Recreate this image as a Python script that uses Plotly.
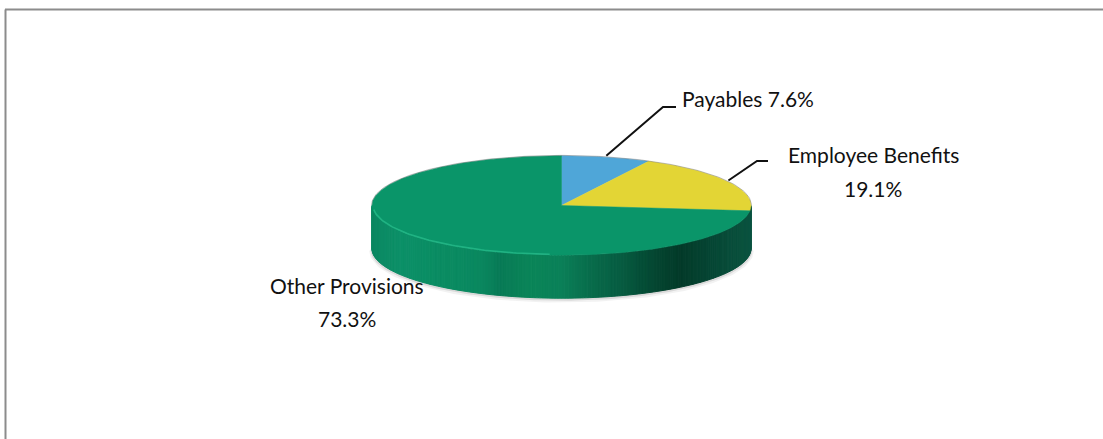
import numpy as np
import plotly.graph_objects as go

categories = ["Payables", "Employee Benefits", "Other Provisions"]
shares = [7.6, 19.1, 73.3]
slice_colors = ["#4fa6d8", "#e3d535", "#0a9569"]

# Shading of the pie's front wall, left to right across the page.
wall_x = [372, 400, 430, 480, 500, 530, 560, 590, 620, 660, 680, 710, 751]
wall_rgb = [(11, 136, 98), (12, 144, 104), (10, 141, 99), (10, 136, 95), (8, 122, 86),
            (10, 133, 88), (10, 128, 88), (8, 108, 75), (7, 92, 65), (4, 67, 47),
            (3, 58, 41), (6, 70, 52), (11, 84, 64)]

CX, CY, RX, RY, DEPTH = 561.5, 205.5, 189.5, 49.7, 43.0
FONT = "Lato"
FONT_SIZE = 21


def rim(theta, drop=0.0, grow=1.0):
    """Point on the ellipse, theta in radians clockwise from 12 o'clock."""
    return CX + RX * grow * np.sin(theta), CY + drop - RY * grow * np.cos(theta)


def wall_color(x):
    return tuple(float(np.interp(x, wall_x, [c[i] for c in wall_rgb])) for i in range(3))


def css(rgb, lift=0):
    return "rgb({:.0f},{:.0f},{:.0f})".format(*[min(255, v + lift) for v in rgb])


fig = go.Figure()

# Soft shadow hugging the lower edge of the wall.
shadow_t = np.linspace(np.pi * 0.5, np.pi * 1.5, 160)
for width, alpha, offset in [(6, 0.05, 1.5), (3, 0.10, 1.0)]:
    sx, sy = rim(shadow_t, DEPTH + offset)
    fig.add_trace(go.Scatter(x=sx, y=sy, mode="lines", hoverinfo="skip",
                             line=dict(color=f"rgba(0,0,0,{alpha})", width=width)))

# Front wall, built from narrow vertical strips.
edges = np.linspace(np.pi * 0.5, np.pi * 1.5, 181)
for a, b in zip(edges[:-1], edges[1:]):
    arc = np.linspace(a, b, 3)
    tx, ty = rim(arc)
    bx, by = rim(arc[::-1], DEPTH)
    color = css(wall_color(float(np.mean(tx))))
    fig.add_trace(go.Scatter(x=np.r_[tx, bx, tx[0]], y=np.r_[ty, by, ty[0]], mode="lines",
                             fill="toself", fillcolor=color, hoverinfo="skip",
                             line=dict(color=color, width=1)))

# Top face: one wedge per share, clockwise from 12 o'clock.
total = sum(shares)
start = 0.0
mid_angles = []
for share, color in zip(shares, slice_colors):
    end = start + share / total * 2 * np.pi
    t = np.linspace(start, end, max(8, int(share * 6)))
    x, y = rim(t)
    fig.add_trace(go.Scatter(x=np.r_[CX, x, CX], y=np.r_[CY, y, CY], mode="lines",
                             fill="toself", fillcolor=color, hoverinfo="skip",
                             line=dict(color=color, width=0.5)))
    mid_angles.append((start + end) / 2)
    start = end

# Light bevel along the left and front of the top face.
bevel = np.linspace(np.pi * 1.02, np.pi * 1.47, 80)
bx, by = rim(bevel, -0.5, 0.995)
fig.add_trace(go.Scatter(x=bx, y=by, mode="lines", hoverinfo="skip",
                         line=dict(color="rgba(40,190,140,0.75)", width=1.5)))

# Grey edge around the back of the pie.
back = np.linspace(-np.pi * 0.5, np.pi * 0.5, 120)
gx, gy = rim(back, -0.3, 1.002)
fig.add_trace(go.Scatter(x=gx, y=gy, mode="lines", hoverinfo="skip",
                         line=dict(color="rgba(90,90,90,0.4)", width=1)))

# Leader lines from the two smaller slices to their labels.
elbows = [(663, 107, 676), (757, 161, 768)]
for angle, (ex, ey, tail) in zip(mid_angles[:2], elbows):
    ax, ay = rim(angle, -1.5)
    fig.add_trace(go.Scatter(x=[ax, ex, tail], y=[ay, ey, ey], mode="lines", hoverinfo="skip",
                             line=dict(color="#111111", width=2)))


def label(text, x, y, anchor="center"):
    fig.add_annotation(x=x, y=y, text=text, showarrow=False, xanchor=anchor, yanchor="middle",
                       font=dict(family=FONT, size=FONT_SIZE, color="#111111"))


label(f"{categories[0]} {shares[0]}%", 680, 98, "left")
label(categories[1], 873, 154)
label(f"{shares[1]}%", 873, 188)
label(categories[2], 347, 285)
label(f"{shares[2]}%", 347, 318)

fig.update_layout(
    width=1103, height=439, margin=dict(l=0, r=0, t=0, b=0),
    paper_bgcolor="white", plot_bgcolor="white", showlegend=False,
    xaxis=dict(range=[0, 1103], visible=False, fixedrange=True),
    yaxis=dict(range=[439, 0], visible=False, fixedrange=True),
    shapes=[dict(type="line", x0=5.5, x1=5.5, y0=9.5, y1=439, line=dict(color="#8c8c8c", width=2)),
            dict(type="line", x0=5, x1=1103, y0=9.5, y1=9.5, line=dict(color="#8c8c8c", width=2))],
)

fig.write_html("out.html", config={"displayModeBar": False})
